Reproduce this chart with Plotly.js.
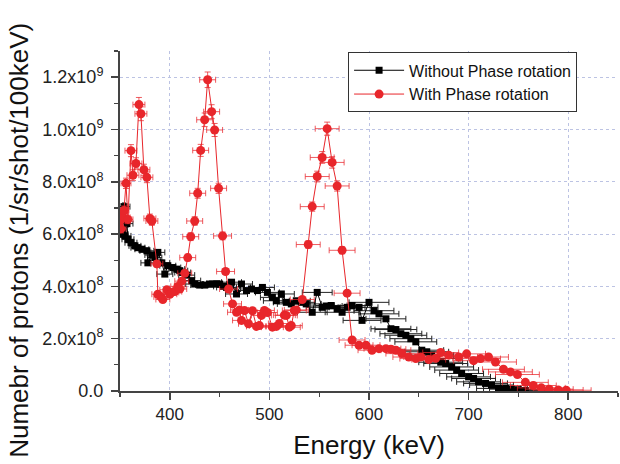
<!DOCTYPE html>
<html>
<head>
<meta charset="utf-8">
<script src="https://cdn.plot.ly/plotly-3.0.1.min.js"></script>
<style>html,body{margin:0;padding:0;background:#fff;}#chart{width:620px;height:464px;}</style>
</head>
<body>
<div id="chart"></div>
<script>
// Without Phase rotation (energy keV, counts in units of 1e8, horizontal error keV)
const blackEnergy = [
  350,352,354,355,357,358,361,365,368,372,
  377,378,382,385,388,392,395,398,403,407,
  410,413,417,422,425,430,435,440,443,447,
  450,454,457,462,467,472,477,482,488,493,
  498,503,507,512,517,522,527,532,537,543,
  548,553,557,562,568,573,578,583,590,593,
  600,605,610,617,622,627,632,637,642,647,
  653,658,663,668,672,677,683,688,693,700,
  705,710,717,723,730,737,743,750,757];
const blackCounts = [
  6.1,6.0,7.05,5.93,6.4,5.8,5.67,5.55,5.48,5.42,
  5.36,4.9,5.2,5.1,5.3,4.9,4.47,4.79,4.72,4.66,
  4.6,4.53,4.43,4.22,4.09,4.05,4.05,4.09,4.09,4.1,
  4.09,4.0,3.96,4.16,3.71,4.09,3.84,3.9,3.84,3.96,
  3.77,3.58,3.45,3.71,3.39,3.33,3.45,3.39,3.33,3.01,
  3.77,3.2,3.25,3.27,3.14,3.01,3.2,3.27,3.2,2.7,
  3.39,3.07,2.95,2.76,2.38,2.35,2.19,2.13,2.0,1.88,
  1.56,1.5,1.37,1.24,1.1,1.05,0.92,0.8,0.67,0.54,
  0.48,0.35,0.29,0.23,0.10,0.10,0.07,0.05,0.02];
const blackErrE = [
  6,6,6,6,6,6,6,6,7,7,
  7,7,7,7,7,8,8,8,8,8,
  8,8,8,9,9,9,9,9,10,10,
  10,10,10,10,11,11,11,11,12,12,
  12,12,13,13,13,14,14,14,15,15,
  15,16,16,16,17,17,18,18,19,19,
  20,20,20,20,20,21,21,21,21,21,
  22,22,22,22,22,22,22,22,22,22,
  22,22,22,22,22,22,22,22,22];

// With Phase rotation
const redEnergy = [
  350,351,352,354,356,358,361,363,366,369,
  371,374,377,380,382,387,388,391,393,397,
  400,402,405,408,410,412,415,418,421,425,
  428,431,435,438,442,445,449,453,456,459,
  463,467,470,472,475,479,483,487,490,492,
  495,498,503,507,510,515,517,520,522,525,
  527,533,539,543,548,553,558,563,568,573,
  578,583,590,597,603,610,617,622,627,633,
  640,647,652,660,667,672,680,690,698,705,
  712,720,727,735,742,749,757,765,773,781,
  790,798];
const redCounts = [
  6.5,6.2,6.7,6.9,7.94,6.56,9.19,8.25,8.7,10.95,
  10.6,8.46,8.17,6.6,6.5,4.86,3.7,3.6,3.5,3.87,
  3.7,3.77,3.8,4.0,3.9,4.2,4.5,5.1,5.9,6.5,
  7.56,9.2,10.37,11.9,10.68,9.98,7.75,5.93,4.57,3.9,
  3.33,3.01,3.1,2.7,3.08,2.57,3.07,2.47,2.5,2.89,
  3.08,3.0,2.44,2.47,2.58,2.9,2.89,2.44,2.5,3.08,
  3.1,3.5,5.6,7.05,8.2,8.93,10.03,8.74,7.84,5.38,
  3.74,1.95,1.75,1.75,1.56,1.62,1.62,1.6,1.56,1.43,
  1.3,1.24,1.3,1.2,1.25,1.47,1.37,1.3,1.42,1.16,
  1.24,1.3,1.11,0.83,0.73,0.63,0.33,0.21,0.12,0.07,
  0.04,0.03];
const redErrE = [
  5,5,5,5,5,5,6,6,6,6,
  6,6,6,6,6,6,6,7,7,7,
  7,7,7,7,7,7,7,8,8,8,
  8,8,8,8,8,8,8,9,9,9,
  9,9,9,9,10,10,10,10,10,10,
  10,10,11,11,11,11,11,11,11,12,
  12,12,12,12,12,12,12,12,12,13,
  13,13,14,14,14,15,15,15,15,16,
  16,16,17,17,17,18,18,19,19,20,
  20,20,21,21,22,22,23,23,24,24,
  25,25];

const countUnit = 1e8;
const yTickVals = [0, 2e8, 4e8, 6e8, 8e8, 1e9, 1.2e9];
const yTickText = ['0.0', '2.0x10<sup>8</sup>', '4.0x10<sup>8</sup>', '6.0x10<sup>8</sup>',
                   '8.0x10<sup>8</sup>', '1.0x10<sup>9</sup>', '1.2x10<sup>9</sup>'];

const RED = '#e8262b';
const FONT = 'Arial, "Liberation Sans", sans-serif';
const GRID = '#bcc3e3';

const traces = [
  {
    type: 'scatter', mode: 'lines+markers', name: 'Without Phase rotation',
    x: blackEnergy, y: blackCounts.map(v => v * countUnit),
    line: {color: '#000', width: 1},
    marker: {symbol: 'square', size: 7, color: '#000'},
    error_x: {type: 'data', array: blackErrE, visible: true, color: '#222', thickness: 1, width: 3},
    error_y: {type: 'percent', value: 2, visible: true, color: '#222', thickness: 1, width: 2}
  },
  {
    type: 'scatter', mode: 'lines+markers', name: 'With Phase rotation',
    x: redEnergy, y: redCounts.map(v => v * countUnit),
    line: {color: RED, width: 1},
    marker: {symbol: 'circle', size: 9, color: RED},
    error_x: {type: 'data', array: redErrE, visible: true, color: 'rgba(232,38,43,0.75)', thickness: 1, width: 3},
    error_y: {type: 'percent', value: 2.5, visible: true, color: 'rgba(232,38,43,0.75)', thickness: 1, width: 3}
  }
];

const layout = {
  width: 620, height: 464,
  margin: {l: 120, r: 2, t: 51, b: 73},
  paper_bgcolor: '#fff', plot_bgcolor: '#fff',
  font: {family: FONT, color: '#222'},
  showlegend: true,
  legend: {
    x: 0.458, y: 0.996, xanchor: 'left', yanchor: 'top',
    bgcolor: '#fff', bordercolor: '#333', borderwidth: 1,
    font: {family: FONT, size: 16, color: '#111'},
    itemwidth: 50, tracegroupgap: 0
  },
  xaxis: {
    range: [350, 850], tick0: 0, dtick: 100,
    ticks: 'outside', ticklen: 7, tickwidth: 1.5, tickcolor: '#444',
    showline: true, linewidth: 2, linecolor: '#444', mirror: false,
    showgrid: true, gridcolor: GRID, griddash: 'dot', gridwidth: 1,
    zeroline: false,
    minor: {dtick: 50, ticks: 'outside', ticklen: 4, tickwidth: 1.2, tickcolor: '#444', showgrid: false},
    tickfont: {family: FONT, size: 17, color: '#222'},
    title: {text: 'Energy (keV)', font: {family: FONT, size: 26, color: '#111'}, standoff: 12}
  },
  yaxis: {
    range: [0, 1.3e9],
    tickmode: 'array', tickvals: yTickVals, ticktext: yTickText,
    ticks: 'outside', ticklen: 7, tickwidth: 1.5, tickcolor: '#444',
    showline: true, linewidth: 2, linecolor: '#444', mirror: false,
    showgrid: true, gridcolor: GRID, griddash: 'dot', gridwidth: 1,
    zeroline: false, ticklabelstandoff: 4,
    minor: {tickmode: 'linear', tick0: 0, dtick: 1e8, ticks: 'outside', ticklen: 4, tickwidth: 1.2, tickcolor: '#444', showgrid: false},
    tickfont: {family: FONT, size: 18, color: '#222'}
  },
  annotations: [{
    text: 'Numebr of protons (1/sr/shot/100keV)',
    xref: 'paper', yref: 'paper', x: -0.202, y: 0.443,
    xanchor: 'center', yanchor: 'middle', textangle: -90, showarrow: false,
    font: {family: FONT, size: 26, color: '#111'}
  }]
};

Plotly.newPlot('chart', traces, layout, {displayModeBar: false, staticPlot: true});
</script>
</body>
</html>
